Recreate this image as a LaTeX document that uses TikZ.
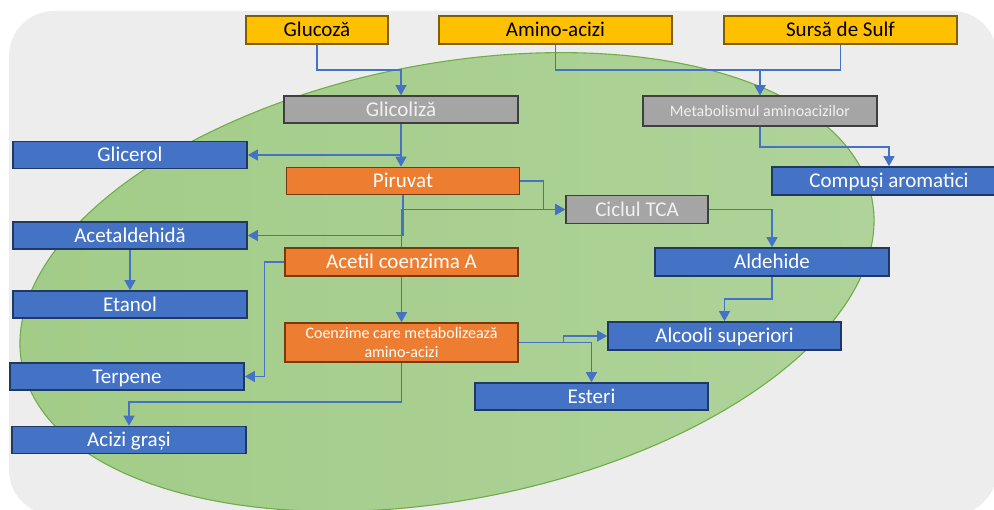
\documentclass[tikz,border=0pt]{standalone}
\usepackage{fontspec}
\setmainfont{Carlito}
\usetikzlibrary{arrows.meta}
\definecolor{bgc}{HTML}{EDEDED}
\definecolor{ellL}{HTML}{A2CC88}
\definecolor{ellR}{HTML}{AFD39A}
\definecolor{elld}{HTML}{70AD47}
\definecolor{bluef}{HTML}{4472C4}
\definecolor{blued}{HTML}{1F3864}
\definecolor{orf}{HTML}{ED7D31}
\definecolor{ord}{HTML}{7A380D}
\definecolor{grf}{HTML}{A5A5A5}
\definecolor{grd}{HTML}{3F3F3F}
\definecolor{yef}{HTML}{FFC000}
\definecolor{yed}{HTML}{7F6000}
\definecolor{linec}{HTML}{4472C4}
\begin{document}
\begin{tikzpicture}[x=1pt,y=1pt,
  basebox/.style={draw, line width=1.6pt, inner sep=0pt, minimum height=27pt, minimum width=234pt},
  capbox/.style={basebox, font=\fontsize{21}{24}\selectfont, text height=13.5pt, text depth=0pt},
  smallcap/.style={font=\fontsize{16}{19}\selectfont, text height=10.3pt, text depth=0pt},
  bluebox/.style={capbox, fill=bluef, draw=blued, text=white},
  orbox/.style={capbox, fill=orf, draw=ord, text=white},
  grbox/.style={capbox, fill=grf, draw=grd, text=white!94!black},
  yebox/.style={capbox, fill=yef, draw=yed, text=black, minimum height=28pt},
  conn/.style={draw=linec, line width=1.2pt, -{Triangle[length=10pt,width=11pt]}}
]
\useasboundingbox (0,0) rectangle (994,-510);
\clip (0,0) rectangle (994,-510);
% background
\fill[bgc, rounded corners=45pt] (9,-11) rectangle (997,-515);
% green ellipse (centre 447,282 px; radii 433 x 218; tilted 11 deg)
\shade[left color=ellL, right color=ellR]
  plot[domain=0:360, samples=145, smooth cycle, variable=\t]
  ({447 + 433*cos(\t)*cos(11) - 218*sin(\t)*sin(11)}, {-282 + 433*cos(\t)*sin(11) + 218*sin(\t)*cos(11)});
\draw[elld, line width=1.1pt]
  plot[domain=0:360, samples=145, smooth cycle, variable=\t]
  ({447 + 433*cos(\t)*cos(11) - 218*sin(\t)*sin(11)}, {-282 + 433*cos(\t)*sin(11) + 218*sin(\t)*cos(11)});

% helper rows
\coordinate (r70) at (0,-70);
\coordinate (r147) at (0,-147);
\coordinate (r299) at (0,-299);
\coordinate (r402) at (0,-402);

% nodes
\node[yebox, minimum width=142pt] (gluc) at (317,-30) {Glucoză};
\node[yebox, minimum width=233pt] (amino) at (555.5,-30) {Amino-acizi};
\node[yebox, minimum width=233pt] (sulf) at (840.5,-30) {Sursă de Sulf};

\node[grbox] (glic) at (401,-109.5) {Glicoliză};
\node[grbox, smallcap, minimum height=30pt] (meta) at (760,-111) {Metabolismul aminoacizilor};
\node[bluebox, minimum height=28pt] (compusi) at (889,-181) {Compuși aromatici};

\node[bluebox] (glicerol) at (130,-155) {Glicerol};
\node[orbox, minimum width=233pt] (piruvat) at (403,-181) {Piruvat};
\node[grbox, minimum width=142pt, minimum height=28pt] (tca) at (637,-209.5) {Ciclul TCA};
\node[bluebox] (acetald) at (130,-235.5) {Acetaldehidă};
\node[orbox, minimum width=233pt, minimum height=28pt] (acetil) at (401.5,-262) {Acetil coenzima A};
\node[bluebox] (etanol) at (130,-304.5) {Etanol};
\node[bluebox, minimum height=28pt] (aldehide) at (772,-262) {Aldehide};
\node[basebox, fill=orf, draw=ord, text=white, minimum width=233pt, minimum height=39pt, align=center, font=\fontsize{16}{19}\selectfont] (coenz) at (401.5,-342.5) {Coenzime care metabolizează\\amino-acizi};
\node[bluebox, minimum width=233pt, minimum height=28pt] (alcooli) at (724.5,-336) {Alcooli superiori};
\node[bluebox] (terpene) at (127,-376.5) {Terpene};
\node[bluebox, minimum width=233pt] (esteri) at (591.5,-396.5) {Esteri};
\node[bluebox] (acizi) at (129,-440) {Acizi grași};

% connectors
\draw[conn] (gluc.south) -- (gluc.south |- r70) -| (glic.north);
\draw[conn] (amino.south) -- (amino.south |- r70) -| (meta.north);
\draw[conn] (sulf.south) -- (sulf.south |- r70) -| (meta.north);
\draw[conn] (meta.south) -- (meta.south |- r147) -| (compusi.north);
\draw[conn] (glic.south) -- (glic.south |- piruvat.north);
\draw[conn] (glic.south) |- (glicerol.east);
\draw[conn] (piruvat.east) -- ++(23,0) |- (tca.west);
\draw[conn] (piruvat.south) |- (acetald.east);
\draw[conn] (acetil.north) |- (tca.west);
\draw[conn] (acetil.west) -- ++(-20,0) |- (terpene.east);
\draw[conn] (acetil.south) -- (coenz.north);
\draw[conn] (acetald.south) -- (etanol.north);
\draw[conn] (coenz.south) -- (coenz.south |- r402) -| (acizi.north);
\draw[conn] (coenz.east) -- ++(45,0) |- (alcooli.west);
\draw[conn] (coenz.east) -| (esteri.north);
\draw[conn] (tca.east) -| (aldehide.north);
\draw[conn] (aldehide.south) -- (aldehide.south |- r299) -| (alcooli.north);
\end{tikzpicture}
\end{document}
